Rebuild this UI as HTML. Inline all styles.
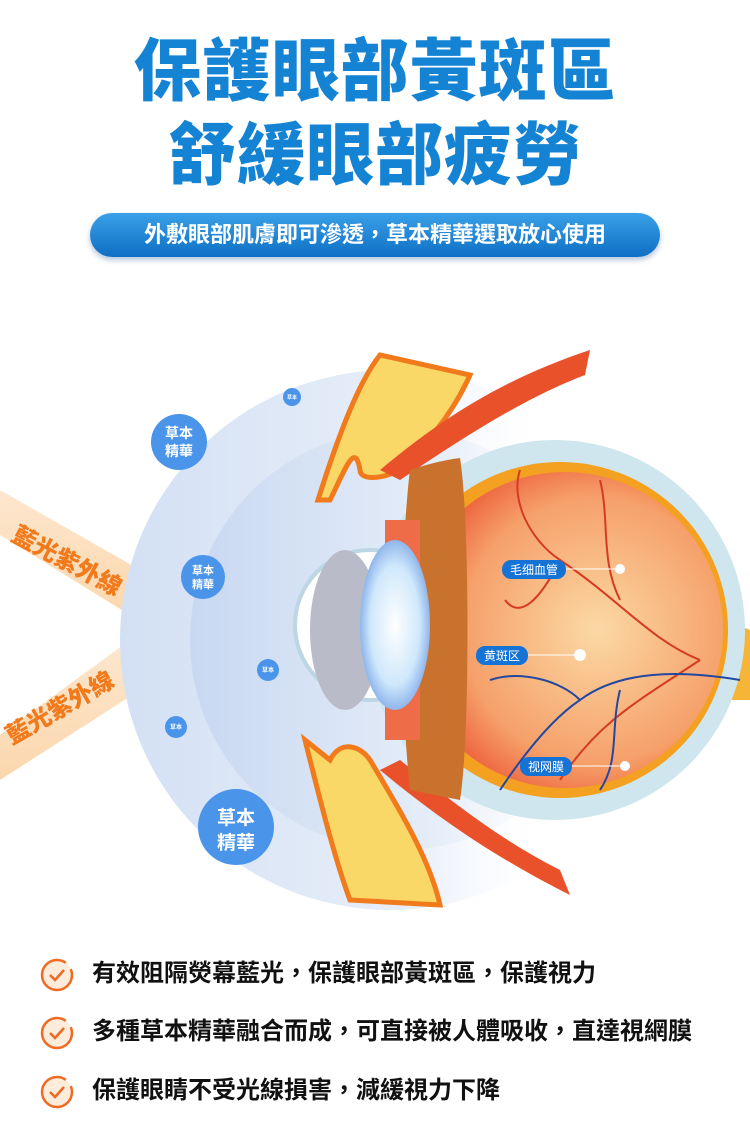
<!DOCTYPE html>
<html><head><meta charset="utf-8"><style>
html,body{margin:0;padding:0;background:#fff;}
body{width:750px;height:1145px;position:relative;overflow:hidden;font-family:"Liberation Sans","Noto Sans CJK TC",sans-serif;}
.t{position:absolute;left:0;width:750px;text-align:center;color:#1583d3;font-weight:900;font-size:68px;letter-spacing:1px;line-height:1;}
.pill{position:absolute;left:90px;top:213px;width:570px;height:44px;border-radius:22px;background:linear-gradient(#3aa0e8,#0f6fc4);color:#fff;font-weight:700;font-size:22px;line-height:44px;text-align:center;box-shadow:0 3px 6px rgba(0,60,140,.3);}
.b{position:absolute;left:92px;font-size:24px;font-weight:700;color:#111;line-height:30px;}
.ck{position:absolute;left:40px;width:34px;height:34px;}
</style></head><body>
<div class="t" style="top:38px">保護眼部黃斑區</div>
<div class="t" style="top:122px">舒緩眼部疲勞</div>
<div class="pill">外敷眼部肌膚即可滲透，草本精華選取放心使用</div>

<svg width="750" height="600" style="position:absolute;left:0;top:330px" viewBox="0 330 750 600">
<defs>
<linearGradient id="halo" x1="0" y1="0" x2="1" y2="0"><stop offset="0" stop-color="#d3e0f4"/><stop offset="0.55" stop-color="#e8eff9"/><stop offset="0.8" stop-color="#fff" stop-opacity="0"/></linearGradient>
<linearGradient id="halo2" x1="0" y1="0" x2="1" y2="0"><stop offset="0" stop-color="#c8d8f1"/><stop offset="0.6" stop-color="#e6eef9"/><stop offset="0.9" stop-color="#fff" stop-opacity="0"/></linearGradient>
<linearGradient id="beam" x1="0" y1="0" x2="0" y2="1"><stop offset="0" stop-color="#fde7cf"/><stop offset="1" stop-color="#fbd7ad"/></linearGradient>
<radialGradient id="ret" cx="0.6" cy="0.5" r="0.6"><stop offset="0" stop-color="#fbd9a4"/><stop offset="0.7" stop-color="#f6a06a"/><stop offset="1" stop-color="#ec5a36"/></radialGradient>
<radialGradient id="lens" cx="0.5" cy="0.5" r="0.5"><stop offset="0" stop-color="#fff"/><stop offset="0.7" stop-color="#cfe8fb"/><stop offset="1" stop-color="#8fb6ec"/></radialGradient>
</defs>
<polygon points="0,490 140,570 130,615 0,535" fill="url(#beam)"/>
<polygon points="0,735 130,640 140,690 0,780" fill="url(#beam)"/>
<text transform="translate(10,540) rotate(28)" font-size="24" font-weight="900" fill="#f07a1c" font-family="Liberation Sans,Noto Sans CJK TC,sans-serif">藍光紫外線</text>
<text transform="translate(12,745) rotate(-30)" font-size="24" font-weight="900" fill="#f07a1c" font-family="Liberation Sans,Noto Sans CJK TC,sans-serif">藍光紫外線</text>
<circle cx="390" cy="640" r="270" fill="url(#halo)"/>
<circle cx="400" cy="640" r="210" fill="url(#halo2)"/>
<path d="M318,500 C340,430 360,380 380,355 L470,375 C450,420 420,450 400,470 C380,480 360,480 360,470 C355,440 345,470 330,500 Z" fill="#f9d867" stroke="#f07a1c" stroke-width="5"/>
<path d="M380,470 C440,420 500,380 590,350 L585,375 C520,400 460,440 400,480 Z" fill="#e8512a"/>
<path d="M305,740 C320,800 335,860 350,900 L440,905 C430,860 400,810 370,760 C360,745 340,740 330,760 Z" fill="#f9d867" stroke="#f07a1c" stroke-width="5"/>
<path d="M380,770 C440,820 500,860 570,895 L560,870 C500,840 450,800 400,760 Z" fill="#e8512a"/>
<path d="M700,610 L750,630 L750,700 L700,700 Z" fill="#f5b638"/>
<circle cx="555" cy="630" r="190" fill="#cfe6ee"/>
<circle cx="370" cy="625" r="75" fill="#fff" stroke="#bcd6e4" stroke-width="4"/>
<circle cx="560" cy="630" r="168" fill="#f4a021"/>
<circle cx="565" cy="630" r="158" fill="url(#ret)"/>
<path d="M410,470 C440,460 460,458 460,458 C470,520 470,740 460,800 L410,790 C400,700 400,550 410,470 Z" fill="#c9722e"/>
<path d="M385,520 L420,520 L420,740 L385,740 Z" fill="#ee6c48"/>
<ellipse cx="345" cy="630" rx="35" ry="80" fill="#b9bcc8"/>
<ellipse cx="395" cy="625" rx="35" ry="85" fill="url(#lens)"/>
<g stroke="#d43b22" stroke-width="2" fill="none">
<path d="M700,660 C650,640 620,600 560,560 C530,540 510,500 520,470"/>
<path d="M620,600 C600,560 610,520 600,480"/>
<path d="M560,560 C540,600 520,620 505,600"/>
<path d="M700,660 C640,700 600,720 560,780"/>
</g>
<g stroke="#2448a0" stroke-width="2" fill="none">
<path d="M740,680 C680,670 620,670 580,700 C550,720 520,760 500,790"/>
<path d="M580,700 C560,680 520,670 490,680"/>
<path d="M620,690 C610,730 620,760 600,790"/>
</g>
<g font-family="Liberation Sans,Noto Sans CJK SC,sans-serif" font-size="12" fill="#fff">
<rect x="502" y="560" width="64" height="19" rx="9" fill="#1673d6"/><text x="534" y="574" text-anchor="middle">毛细血管</text>
<rect x="476" y="646" width="52" height="19" rx="9" fill="#1673d6"/><text x="502" y="660" text-anchor="middle">黄斑区</text>
<rect x="520" y="757" width="52" height="19" rx="9" fill="#1673d6"/><text x="546" y="771" text-anchor="middle">视网膜</text>
</g>
<g stroke="#fff" stroke-width="1"><line x1="566" y1="569" x2="618" y2="569"/><line x1="528" y1="655" x2="580" y2="655"/><line x1="572" y1="766" x2="625" y2="766"/></g>
<g fill="#fff"><circle cx="620" cy="569" r="5"/><circle cx="580" cy="655" r="6"/><circle cx="625" cy="766" r="5"/></g>
<g font-family="Liberation Sans,Noto Sans CJK TC,sans-serif" fill="#fff" font-weight="700" text-anchor="middle">
<circle cx="179" cy="442" r="28" fill="#4a94ea"/><text x="179" y="438" font-size="14">草本</text><text x="179" y="456" font-size="14">精華</text>
<circle cx="203" cy="577" r="22" fill="#4a94ea"/><text x="203" y="574" font-size="11">草本</text><text x="203" y="588" font-size="11">精華</text>
<circle cx="236" cy="827" r="38" fill="#4a94ea"/><text x="236" y="824" font-size="19">草本</text><text x="236" y="849" font-size="19">精華</text>
<circle cx="292" cy="397" r="9" fill="#4a94ea"/><text x="292" y="399" font-size="5">草本</text>
<circle cx="268" cy="670" r="11" fill="#4a94ea"/><text x="268" y="672" font-size="6">草本</text>
<circle cx="176" cy="727" r="11" fill="#4a94ea"/><text x="176" y="729" font-size="6">草本</text>
</g>
</svg>

<svg class="ck" style="top:958px" viewBox="0 0 34 34"><circle cx="17" cy="17" r="15" fill="#fdebdc" stroke="#f06a24" stroke-width="2.5" stroke-dasharray="80 8"/><path d="M10,17 L15,22 L24,12" stroke="#f06a24" stroke-width="2.5" fill="none"/></svg>
<div class="b" style="top:959px">有效阻隔熒幕藍光，保護眼部黃斑區，保護視力</div>
<svg class="ck" style="top:1016px" viewBox="0 0 34 34"><circle cx="17" cy="17" r="15" fill="#fdebdc" stroke="#f06a24" stroke-width="2.5" stroke-dasharray="80 8"/><path d="M10,17 L15,22 L24,12" stroke="#f06a24" stroke-width="2.5" fill="none"/></svg>
<div class="b" style="top:1017px">多種草本精華融合而成，可直接被人體吸收，直達視網膜</div>
<svg class="ck" style="top:1075px" viewBox="0 0 34 34"><circle cx="17" cy="17" r="15" fill="#fdebdc" stroke="#f06a24" stroke-width="2.5" stroke-dasharray="80 8"/><path d="M10,17 L15,22 L24,12" stroke="#f06a24" stroke-width="2.5" fill="none"/></svg>
<div class="b" style="top:1076px">保護眼睛不受光線損害，減緩視力下降</div>
</body></html>
